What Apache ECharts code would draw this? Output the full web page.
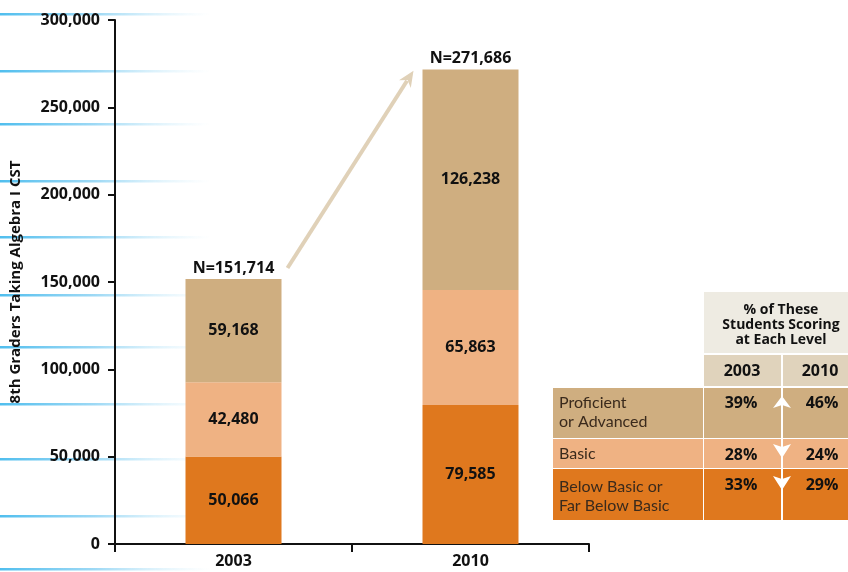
<!DOCTYPE html>
<html>
<head>
<meta charset="utf-8">
<script src="https://cdn.jsdelivr.net/npm/echarts@6/dist/echarts.min.js"></script>
<style>
  html, body { margin: 0; padding: 0; background: #fff; }
  #chart { width: 848px; height: 572px; }
</style>
</head>
<body>
<div id="chart"></div>
<script>
// data
const years = ['2003', '2010']
const belowBasic = [50066, 79585]
const basic = [42480, 65863]
const proficient = [59168, 126238]
const totals = [151714, 271686]

const levels = ['Proficient\nor Advanced', 'Basic', 'Below Basic or\nFar Below Basic']
const pct2003 = [39, 28, 33]
const pct2010 = [46, 24, 29]

const font = '"Open Sans", "DejaVu Sans", sans-serif'
const lightFont = 'Lato, "Open Sans", sans-serif'
const levelColors = ['#cfae80', '#efb283', '#df781e']
const fmt = v => v.toLocaleString('en-US')

// decorative blue rules on the left edge
const decoLineY = [14, 71, 124, 181, 237, 295, 347, 404, 459, 516, 569]

// table layout
const rowTops = [388, 439, 469]
const rowHeights = [50, 29, 51]
const labelY = [412, 454, 496]
const textRowY = [403, 455, 485]

const chart = echarts.init(document.getElementById('chart'))

function segLabel() {
  return {
    show: true,
    position: 'inside',
    color: '#111',
    fontFamily: font,
    fontWeight: 'bold',
    fontSize: 16,
    formatter: p => fmt(p.value)
  }
}

function buildTable() {
  const els = []
  // header cells
  els.push({ type: 'rect', shape: { x: 704, y: 292, width: 144, height: 61 }, style: { fill: '#eeebe2' } })
  els.push({ type: 'text', style: { text: '% of These\nStudents Scoring\nat Each Level', x: 781, y: 325, align: 'center', verticalAlign: 'middle', font: 'bold 14px ' + font, lineHeight: 15, fill: '#111' } })
  els.push({ type: 'rect', shape: { x: 704, y: 355, width: 77, height: 31 }, style: { fill: '#e0d3bc' } })
  els.push({ type: 'rect', shape: { x: 783, y: 355, width: 65, height: 31 }, style: { fill: '#e0d3bc' } })
  els.push({ type: 'text', style: { text: years[0], x: 742, y: 371, align: 'center', verticalAlign: 'middle', font: 'bold 16px ' + font, fill: '#111' } })
  els.push({ type: 'text', style: { text: years[1], x: 820, y: 371, align: 'center', verticalAlign: 'middle', font: 'bold 16px ' + font, fill: '#111' } })

  levels.forEach((name, i) => {
    const y = rowTops[i]
    const h = rowHeights[i]
    els.push({ type: 'rect', shape: { x: 553, y: y, width: 150, height: h }, style: { fill: levelColors[i] } })
    els.push({ type: 'rect', shape: { x: 704, y: y, width: 77, height: h }, style: { fill: levelColors[i] } })
    els.push({ type: 'rect', shape: { x: 783, y: y, width: 65, height: h }, style: { fill: levelColors[i] } })
    els.push({ type: 'text', style: { text: name, x: 559, y: labelY[i], align: 'left', verticalAlign: 'middle', font: '16px ' + lightFont, lineHeight: 19, fill: '#3a2a1c' } })
    els.push({ type: 'text', style: { text: pct2003[i] + '%', x: 741, y: textRowY[i], align: 'center', verticalAlign: 'middle', font: 'bold 16px ' + font, fill: '#111' } })
    els.push({ type: 'text', style: { text: pct2010[i] + '%', x: 822, y: textRowY[i], align: 'center', verticalAlign: 'middle', font: 'bold 16px ' + font, fill: '#111' } })
    // white arrowhead showing direction of change
    const cx = 782
    let pts
    if (pct2010[i] > pct2003[i]) {
      const t = y + 8
      pts = [[cx, t], [cx + 9, t + 12], [cx, t + 9], [cx - 9, t + 12]]
    } else {
      const b = y + (i === 1 ? 19 : 21)
      pts = [[cx - 9, b - 14], [cx, b - 11], [cx + 9, b - 14], [cx, b]]
    }
    els.push({ type: 'polygon', shape: { points: pts }, style: { fill: '#fff' }, z: 5 })
  })
  return els
}

function buildDeco() {
  return decoLineY.map(y => ({
    type: 'rect',
    z: -10,
    shape: { x: 0, y: y - 1, width: 210, height: 2.5 },
    style: {
      fill: new echarts.graphic.LinearGradient(0, 0, 1, 0, [
        { offset: 0, color: 'rgba(80,190,238,1)' },
        { offset: 0.45, color: 'rgba(140,210,243,0.85)' },
        { offset: 1, color: 'rgba(200,235,250,0)' }
      ])
    }
  }))
}

chart.setOption({
  animation: false,
  grid: { left: 115, right: 259, top: 20, bottom: 28, containLabel: false, outerBoundsMode: 'none' },
  xAxis: {
    type: 'category',
    data: years,
    axisLine: { lineStyle: { color: '#111', width: 2 } },
    axisTick: { show: true, length: 8, lineStyle: { color: '#111', width: 2 } },
    axisLabel: { color: '#111', fontFamily: font, fontWeight: 'bold', fontSize: 16, margin: 9 }
  },
  yAxis: {
    type: 'value',
    min: 0,
    max: 300000,
    interval: 50000,
    name: '8th Graders Taking Algebra I CST',
    nameLocation: 'middle',
    nameGap: 92,
    nameTextStyle: { color: '#111', fontFamily: font, fontWeight: 'bold', fontSize: 15 },
    axisLine: { show: true, lineStyle: { color: '#111', width: 2 } },
    axisTick: { show: true, length: 7, lineStyle: { color: '#111', width: 2 } },
    axisLabel: { color: '#111', fontFamily: font, fontWeight: 'bold', fontSize: 16, margin: 15, formatter: v => fmt(v) },
    splitLine: { show: false }
  },
  series: [
    { name: 'Below Basic or Far Below Basic', type: 'bar', stack: 'n', barWidth: 96, data: belowBasic, itemStyle: { color: levelColors[2] }, label: segLabel() },
    { name: 'Basic', type: 'bar', stack: 'n', data: basic, itemStyle: { color: levelColors[1] }, label: segLabel() },
    { name: 'Proficient or Advanced', type: 'bar', stack: 'n', data: proficient, itemStyle: { color: levelColors[0] }, label: segLabel() },
    {
      name: 'Total', type: 'bar', stack: 'n', data: years.map(() => 0),
      label: {
        show: true, position: 'top', distance: 3, color: '#111',
        fontFamily: font, fontWeight: 'bold', fontSize: 16,
        formatter: p => 'N=' + fmt(totals[p.dataIndex])
      }
    }
  ]
})

// growth arrow between the two totals
const p0 = chart.convertToPixel({ seriesIndex: 0 }, [years[0], 158000])
const p1 = chart.convertToPixel({ seriesIndex: 0 }, [years[1], 271000])
p0[0] += 54
p1[0] -= 57
const dx = p1[0] - p0[0]
const dy = p1[1] - p0[1]
const len = Math.sqrt(dx * dx + dy * dy)
const ux = dx / len
const uy = dy / len
const nx = -uy
const ny = ux
const head = [
  [p1[0], p1[1]],
  [p1[0] - ux * 16 + nx * 7, p1[1] - uy * 16 + ny * 7],
  [p1[0] - ux * 11, p1[1] - uy * 11],
  [p1[0] - ux * 16 - nx * 7, p1[1] - uy * 16 - ny * 7]
]

chart.setOption({
  graphic: buildDeco().concat([
    { type: 'line', shape: { x1: p0[0], y1: p0[1], x2: p1[0] - ux * 12, y2: p1[1] - uy * 12 }, style: { stroke: '#e0d1b8', lineWidth: 4 } },
    { type: 'polygon', shape: { points: head }, style: { fill: '#e0d1b8' } }
  ]).concat(buildTable())
})
</script>
</body>
</html>
